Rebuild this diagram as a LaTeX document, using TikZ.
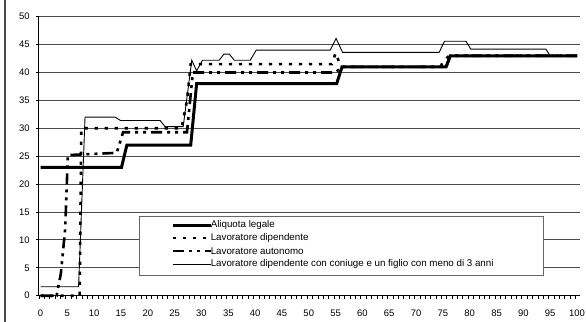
\documentclass[tikz,border=0pt]{standalone}
\usepackage{fontspec}
\setmainfont{Liberation Sans}
\usetikzlibrary{positioning}

\begin{document}
\begin{tikzpicture}[x=5.365bp, y=5.58bp,
    legale/.style={line width=3bp},
    dipendente/.style={line width=2.6bp, dash pattern=on 3.2bp off 6.8bp},
    autonomo/.style={line width=2.6bp, dash pattern=on 11bp off 5bp on 3bp off 5bp on 3bp off 5bp},
    coniuge/.style={line width=0.9bp},
    griglia/.style={black!70, line width=0.9bp},
    ticklab/.style={font=\fontsize{9.5}{10}\selectfont, inner sep=0pt},
    legtext/.style={font=\fontsize{9.8}{11}\selectfont, inner sep=0pt, anchor=west}]
  \useasboundingbox (-40.5bp,-26.3bp) rectangle (545.5bp,295.7bp);
  \draw[black!70, line width=1.5bp] (-35.5bp,-26.3bp) -- (-35.5bp,295.7bp);
  % griglia
  \foreach \v in {5,10,...,50}
    \draw[griglia] (-0.3,\v) -- (100.55,\v);
  % assi
  \draw[line width=0.9bp] (-0.3,0) -- (-0.3,50);
  \draw[line width=0.9bp] (-0.3,0) -- (100.55,0);
  \foreach \v in {0,5,...,50} {
    \draw[line width=0.8bp] (-0.3,\v) -- ++(-3bp,0);
    \node[ticklab, anchor=east, xshift=-9bp] (y\v) at (-0.3,\v) {\v};
  }
  \foreach \k in {0,...,100}
    \draw[line width=0.6bp] (\k-0.3,0) -- ++(0,-3bp);
  \foreach \v in {0,5,...,100}
    \node[ticklab, yshift=-17.3bp] (x\v) at (\v,0) {\v};
  % serie
  \draw[legale] (0,23) -- (15.1,23) -- (16.1,27) -- (28,27) -- (29.1,38)
    -- (55.2,38) -- (56.2,41) -- (75.6,41) -- (76.4,43) -- (100,43);
  \draw[dipendente] (0,0) -- (7.3,0) -- (7.6,30) -- (26.3,30) -- (27.3,35)
    -- (28,41.5) -- (54.3,41.5) -- (55,43.5) -- (56,41) -- (74.6,41)
    -- (75,42) -- (76.2,43) -- (100,43);
  \draw[autonomo] (0,0) -- (3,0) -- (3.8,4) -- (4.6,12) -- (5.1,25.2)
    -- (14.2,25.6) -- (15.4,29.3) -- (27.3,29.3) -- (28.4,40) -- (55,40)
    -- (56.2,41) -- (75.6,41) -- (76.4,43) -- (100,43);
  \draw[coniuge] (0,1.6) -- (7.1,1.6) -- (8.3,32) -- (13.9,32) -- (14.9,31.4)
    -- (22.3,31.4) -- (23.2,30.3) -- (26.6,30.3) -- (28.2,42.2) -- (29.1,40.3)
    -- (30.2,42.2) -- (33.3,42.2) -- (34.2,43.3) -- (35.2,43.3) -- (36.1,42.2)
    -- (39.1,42.2) -- (40.2,44) -- (54,44) -- (55.1,46.1) -- (56.3,43.6)
    -- (74.3,43.6) -- (75.3,45.6) -- (79.3,45.6) -- (80.2,44.2) -- (94.2,44.2)
    -- (95,43) -- (100,43);
  % legenda
  \draw[black!60, line width=1bp, fill=white] (18.36,3.58) rectangle (93.7,14.16);
  \node[legtext] (leg1) at (31.7,12.67) {Aliquota legale};
  \node[legtext] (leg2) at (31.7,10.34) {Lavoratore dipendente};
  \node[legtext] (leg3) at (31.7,8.01) {Lavoratore autonomo};
  \node[legtext] (leg4) at (31.7,5.68) {Lavoratore dipendente con coniuge e un figlio con meno di 3 anni};
  \draw[legale] (24.7,12.67) -- (leg1.west);
  \draw[dipendente] (24.7,10.34) -- (leg2.west);
  \draw[autonomo] (24.7,8.01) -- (leg3.west);
  \draw[coniuge] (24.7,5.68) -- (leg4.west);
\end{tikzpicture}
\end{document}
